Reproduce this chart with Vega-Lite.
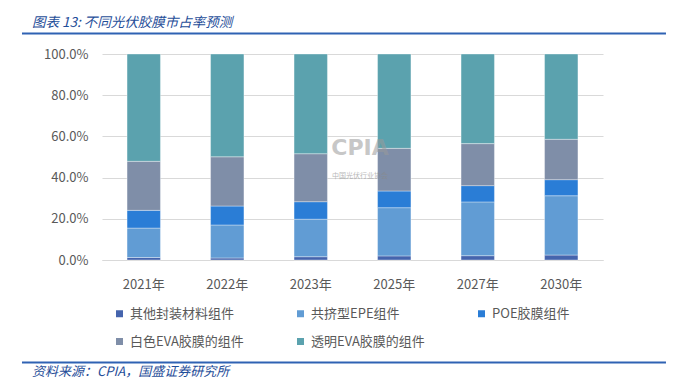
{
  "$schema": "https://vega.github.io/schema/vega-lite/v6.json",
  "width": 501,
  "height": 206,
  "autosize": "none",
  "padding": {"left": 102, "top": 54, "right": 85, "bottom": 126},
  "background": "white",
  "config": {"font": "Noto Sans CJK SC", "view": {"stroke": null}},
  "title": {
    "text": "图表 13: 不同光伏胶膜市占率预测",
    "anchor": "start",
    "frame": "group",
    "dx": -70,
    "offset": 3,
    "fontSize": 13.5,
    "fontStyle": "italic",
    "fontWeight": "normal",
    "color": "#1F4E99",
    "font": "Noto Sans CJK SC"
  },
  "layer": [
    {
      "data": {
        "values": [
          {"year": "2021年", "type": "其他封装材料组件", "share": 0.012},
          {"year": "2021年", "type": "共挤型EPE组件", "share": 0.143},
          {"year": "2021年", "type": "POE胶膜组件", "share": 0.086},
          {"year": "2021年", "type": "白色EVA胶膜的组件", "share": 0.238},
          {"year": "2021年", "type": "透明EVA胶膜的组件", "share": 0.521},
          {"year": "2022年", "type": "其他封装材料组件", "share": 0.010},
          {"year": "2022年", "type": "共挤型EPE组件", "share": 0.160},
          {"year": "2022年", "type": "POE胶膜组件", "share": 0.092},
          {"year": "2022年", "type": "白色EVA胶膜的组件", "share": 0.239},
          {"year": "2022年", "type": "透明EVA胶膜的组件", "share": 0.499},
          {"year": "2023年", "type": "其他封装材料组件", "share": 0.016},
          {"year": "2023年", "type": "共挤型EPE组件", "share": 0.182},
          {"year": "2023年", "type": "POE胶膜组件", "share": 0.085},
          {"year": "2023年", "type": "白色EVA胶膜的组件", "share": 0.233},
          {"year": "2023年", "type": "透明EVA胶膜的组件", "share": 0.484},
          {"year": "2025年", "type": "其他封装材料组件", "share": 0.020},
          {"year": "2025年", "type": "共挤型EPE组件", "share": 0.234},
          {"year": "2025年", "type": "POE胶膜组件", "share": 0.081},
          {"year": "2025年", "type": "白色EVA胶膜的组件", "share": 0.207},
          {"year": "2025年", "type": "透明EVA胶膜的组件", "share": 0.458},
          {"year": "2027年", "type": "其他封装材料组件", "share": 0.021},
          {"year": "2027年", "type": "共挤型EPE组件", "share": 0.261},
          {"year": "2027年", "type": "POE胶膜组件", "share": 0.079},
          {"year": "2027年", "type": "白色EVA胶膜的组件", "share": 0.204},
          {"year": "2027年", "type": "透明EVA胶膜的组件", "share": 0.435},
          {"year": "2030年", "type": "其他封装材料组件", "share": 0.024},
          {"year": "2030年", "type": "共挤型EPE组件", "share": 0.288},
          {"year": "2030年", "type": "POE胶膜组件", "share": 0.078},
          {"year": "2030年", "type": "白色EVA胶膜的组件", "share": 0.196},
          {"year": "2030年", "type": "透明EVA胶膜的组件", "share": 0.414}
        ]
      },
      "transform": [
        {"calculate": "indexof(['其他封装材料组件','共挤型EPE组件','POE胶膜组件','白色EVA胶膜的组件','透明EVA胶膜的组件'], datum.type)", "as": "k"}
      ],
      "mark": {"type": "bar", "stroke": "#ffffff", "strokeWidth": 0.6, "strokeOpacity": 0.6},
      "encoding": {
        "x": {
          "field": "year",
          "type": "nominal",
          "sort": null,
          "scale": {"paddingInner": 0.6, "paddingOuter": 0.3},
          "axis": {
            "title": null,
            "labelAngle": 0,
            "domainColor": "#D9D9D9",
            "ticks": false,
            "labelPadding": 18,
            "labelFontSize": 13,
            "labelColor": "#595959",
            "labelFont": "Noto Sans CJK SC"
          }
        },
        "y": {
          "field": "share",
          "type": "quantitative",
          "stack": "zero",
          "scale": {"domain": [0, 1], "nice": false},
          "axis": {
            "title": null,
            "values": [0, 0.2, 0.4, 0.6, 0.8, 1],
            "format": ".1%",
            "domain": false,
            "ticks": false,
            "labelPadding": 14,
            "labelFontSize": 13,
            "labelColor": "#595959",
            "labelFont": "Noto Sans CJK SC",
            "gridColor": "#D9D9D9",
            "gridWidth": 1
          }
        },
        "color": {
          "field": "type",
          "type": "nominal",
          "sort": ["其他封装材料组件", "共挤型EPE组件", "POE胶膜组件", "白色EVA胶膜的组件", "透明EVA胶膜的组件"],
          "scale": {
            "domain": ["其他封装材料组件", "共挤型EPE组件", "POE胶膜组件", "白色EVA胶膜的组件", "透明EVA胶膜的组件"],
            "range": ["#4564AD", "#619CD4", "#2A7DD6", "#7F8EA8", "#5BA2AE"]
          },
          "legend": {
            "title": null,
            "orient": "none",
            "legendX": 11,
            "legendY": 253,
            "direction": "horizontal",
            "columns": 3,
            "symbolType": "square",
            "symbolSize": 49,
            "symbolStrokeWidth": 0,
            "labelFontSize": 13,
            "labelColor": "#595959",
            "labelFont": "Noto Sans CJK SC",
            "columnPadding": 50,
            "rowPadding": 14,
            "labelOffset": 4,
            "gridAlign": "each",
            "labelLimit": 250
          }
        },
        "order": {"field": "k", "type": "quantitative"}
      }
    },
    {
      "data": {"values": [{}]},
      "layer": [
        {
          "mark": {"type": "rule", "color": "#2F62B3", "strokeWidth": 2},
          "encoding": {
            "x": {"datum": -0.1597, "type": "quantitative", "scale": {"domain": [0, 1], "nice": false, "zero": false}, "axis": null},
            "x2": {"datum": 1.1257},
            "y": {"datum": 1.0995, "type": "quantitative", "scale": {"domain": [0, 1], "nice": false, "zero": false}, "axis": null}
          }
        },
        {
          "mark": {"type": "rule", "color": "#2F62B3", "strokeWidth": 2},
          "encoding": {
            "x": {"datum": -0.1597, "type": "quantitative", "scale": {"domain": [0, 1], "nice": false, "zero": false}, "axis": null},
            "x2": {"datum": 1.1257},
            "y": {"datum": -0.4976, "type": "quantitative", "scale": {"domain": [0, 1], "nice": false, "zero": false}, "axis": null}
          }
        },
        {
          "mark": {"type": "text", "align": "left", "baseline": "middle", "fontSize": 13, "fontStyle": "italic", "color": "#1F4E99", "font": "Noto Sans CJK SC"},
          "encoding": {
            "x": {"datum": -0.1397, "type": "quantitative", "scale": {"domain": [0, 1], "nice": false, "zero": false}, "axis": null},
            "y": {"datum": -0.5437, "type": "quantitative", "scale": {"domain": [0, 1], "nice": false, "zero": false}, "axis": null},
            "text": {"value": "资料来源：CPIA，国盛证券研究所"}
          }
        },
        {
          "mark": {"type": "text", "align": "center", "baseline": "middle", "fontSize": 22, "fontWeight": "bold", "color": "#9A9A9A", "opacity": 0.55, "font": "DejaVu Sans"},
          "encoding": {
            "x": {"datum": 0.515, "type": "quantitative", "scale": {"domain": [0, 1], "nice": false, "zero": false}, "axis": null},
            "y": {"datum": 0.5437, "type": "quantitative", "scale": {"domain": [0, 1], "nice": false, "zero": false}, "axis": null},
            "text": {"value": "CPIA"}
          }
        },
        {
          "mark": {"type": "text", "align": "center", "baseline": "middle", "fontSize": 7, "color": "#8A8A8A", "opacity": 0.6, "font": "Noto Sans CJK SC"},
          "encoding": {
            "x": {"datum": 0.515, "type": "quantitative", "scale": {"domain": [0, 1], "nice": false, "zero": false}, "axis": null},
            "y": {"datum": 0.4078, "type": "quantitative", "scale": {"domain": [0, 1], "nice": false, "zero": false}, "axis": null},
            "text": {"value": "中国光伏行业协会"}
          }
        }
      ]
    }
  ],
  "resolve": {"scale": {"x": "independent", "y": "independent"}, "axis": {"x": "independent", "y": "independent"}}
}
